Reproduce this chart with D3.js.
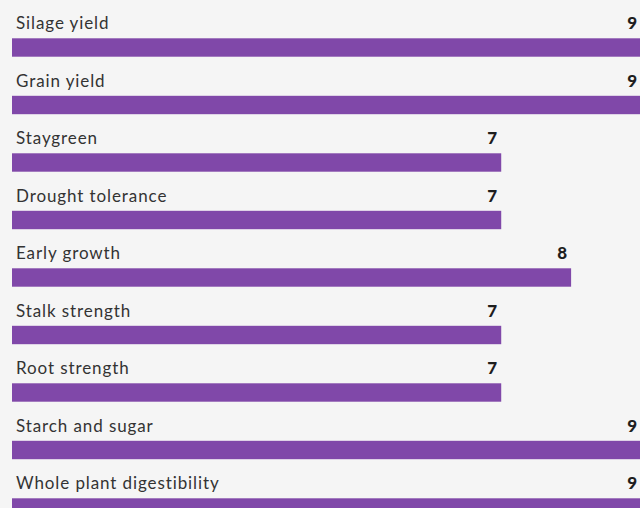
<!DOCTYPE html>
<html>
<head>
<meta charset="utf-8">
<script src="https://cdn.jsdelivr.net/npm/d3@7"></script>
<style>
  html, body { margin: 0; padding: 0; background: #f5f5f5; overflow: hidden; }
  .label { font-family: Lato, "Noto Sans", sans-serif; font-size: 17px; letter-spacing: 0.9px; fill: #333; }
  .value { font-family: Lato, "Noto Sans", sans-serif; font-size: 17px; font-weight: 900; fill: #1e1e1e; }
</style>
</head>
<body>
<div id="chart"></div>
<script>
// DATA
var traits = ["Silage yield", "Grain yield", "Staygreen", "Drought tolerance", "Early growth",
              "Stalk strength", "Root strength", "Starch and sugar", "Whole plant digestibility"];
var scores = [9, 9, 7, 7, 8, 7, 7, 9, 9];
var maxScore = 9;

// DIMENSIONS
var w = 640, h = 508;
var rowStep = 57.5,
    barOffset = 38.3,
    barHeight = 18.4;

var svg = d3.select('#chart').append('svg')
  .attr('width', w)
  .attr('height', h)
  .style('display', 'block');

svg.append('rect').attr('width', w).attr('height', h).attr('fill', '#f5f5f5');

var xScale = d3.scaleLinear()
  .domain([0, maxScore])
  .range([12, 641]);

var yScale = d3.scaleBand()
  .domain(traits)
  .range([0, rowStep * traits.length])
  .padding(0);

var rows = svg.selectAll('.row')
  .data(traits.map(function(t, i) { return { trait: t, score: scores[i] }; }))
  .enter().append('g')
  .attr('class', 'row')
  .attr('transform', function(d) { return 'translate(0,' + yScale(d.trait) + ')'; });

rows.append('text')
  .attr('class', 'label')
  .attr('x', 16)
  .attr('y', barOffset - 9)
  .text(function(d) { return d.trait; });

rows.append('rect')
  .attr('x', xScale(0))
  .attr('y', barOffset)
  .attr('width', function(d) { return xScale(d.score) - xScale(0); })
  .attr('height', barHeight)
  .attr('fill', '#8048a9');

rows.append('text')
  .attr('class', 'value')
  .attr('x', function(d) { return xScale(d.score) - 4; })
  .attr('y', barOffset - 9)
  .attr('text-anchor', 'end')
  .text(function(d) { return d.score; });
</script>
</body>
</html>
